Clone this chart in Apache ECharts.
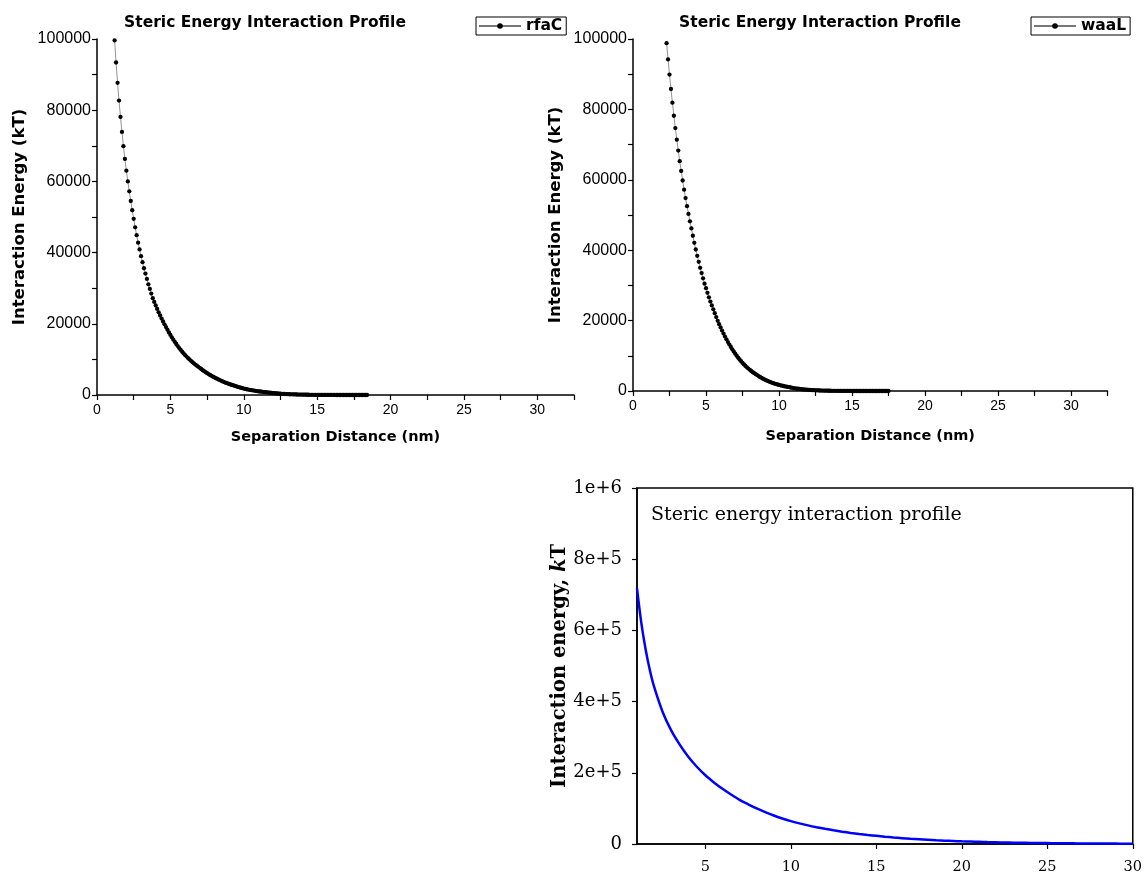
<!DOCTYPE html>
<html><head><meta charset="utf-8">
<script src="https://cdn.jsdelivr.net/npm/echarts@6/dist/echarts.min.js"></script>
<style>html,body{margin:0;padding:0;background:#fff}#c{width:1145px;height:877px}</style>
</head><body><div id="c"></div>
<script>
// ---- data ----
const chartTitle = 'Steric Energy Interaction Profile';
const xName = 'Separation Distance (nm)';
const yName = 'Interaction Energy (kT)';

// rfaC: sampled every 0.1 nm from 1.2 nm to 18.4 nm
const rfaCStart = 1.2, rfaCStep = 0.1;
const rfaC = [
 99600,93400,87700,82700,78100,73900,69900,66300,63000,60000,
 57200,54500,51900,49500,47100,44900,42800,40900,39000,37300,
 35600,34100,32600,31100,29800,28500,27200,26150,25140,24170,
 23230,22330,21470,20640,19840,19070,18330,17590,16880,16200,
 15550,14920,14320,13740,13190,12660,12150,11660,11220,10790,
 10380,9990,9610,9250,8900,8560,8240,7920,7620,7300,
 6980,6690,6400,6130,5870,5620,5380,5150,4930,4720,
 4520,4310,4110,3920,3740,3570,3400,3250,3100,2950,
 2820,2690,2540,2400,2270,2150,2030,1920,1810,1710,
 1620,1530,1450,1370,1300,1230,1160,1100,1040,980,
 930,880,830,790,740,680,630,580,530,490,
 450,420,380,350,330,300,276,254,233,214,
 197,181,166,152,139,127,116,106,97,88,
 80,73,66,60,54,49,44,40,36,32,
 29,26,23,20,18,16,14,12,11,9.5,
 8.2,7,6,5.1,4.3,3.6,3,2.5,2,1.6,
 1.3,1,0.8,0.6,0.45,0.33,0.23,0.15,0.09,0.05,
 0.02,0.01,0
];

// waaL: sampled every 0.1 nm from 2.3 nm to 17.5 nm
const waaLStart = 2.3, waaLStep = 0.1;
const waaL = [
 98800,94200,89900,85800,81900,78200,74700,71400,68300,65300,
 62500,59800,57200,54800,52500,50300,48200,46200,44100,42100,
 40200,38400,36700,35000,33500,32000,30500,29200,27900,26600,
 25400,24300,23200,22100,21000,19950,18980,18050,17160,16320,
 15470,14670,13900,13180,12500,11850,11200,10590,10020,9470,
 8950,8460,7990,7550,7130,6730,6360,6010,5680,5360,
 5070,4790,4520,4240,3980,3730,3500,3280,3080,2890,
 2710,2540,2380,2230,2090,1960,1840,1720,1610,1510,
 1420,1330,1240,1170,1090,1000,910,830,760,700,
 640,580,530,490,440,400,370,335,303,274,
 247,223,201,181,163,146,131,117,105,94,
 84,75,66,59,52,46,41,36,31,27,
 24,21,18,15.5,13.3,11.4,9.7,8.2,6.9,5.8,
 4.8,4,3.3,2.7,2.2,1.7,1.4,1.1,0.85,0.65,
 0.5,0.37,0.27,0.19,0.13,0.09,0.06,0.04,0.02,0.01,
 0.005,0.002,0
];

// bottom panel
const profileTitle = 'Steric energy interaction profile';
const profileX = [1,1.25,1.5,1.75,2,2.5,3,3.5,4,4.5,5,5.5,6,6.5,7,7.5,8,8.5,9,9.5,10,
 10.5,11,11.5,12,12.5,13,13.5,14,14.5,15,15.5,16,16.5,17,17.5,18,18.5,19,19.5,20,
 20.5,21,21.5,22,22.5,23,23.5,24,24.5,25,25.5,26,26.5,27,27.5,28,28.5,29,29.5,30];
const profileY = [718000,622000,548000,489000,442000,371000,319000,279000,245000,217000,193000,
 173000,155000,139000,124000,111500,99900,89500,80100,71800,64300,
 58000,52300,47200,42600,38400,34600,31200,28200,25400,22900,
 20500,18300,16400,14600,13100,11700,10400,9320,8340,7450,
 6680,5980,5360,4800,4300,3850,3450,3090,2770,2480,
 2240,2020,1830,1650,1490,1350,1220,1100,990,900];
const profileXTicks = [5,10,15,20,25,30];
const profileYTickText = {0:'0',200000:'2e+5',400000:'4e+5',600000:'6e+5',800000:'8e+5',1000000:'1e+6'};

// ---- build ----
function pairs(start, step, ys){ return ys.map((y,i)=>[+(start+i*step).toFixed(2), y]); }
const SANS = 'Liberation Sans', BOLDSANS = 'DejaVu Sans', SERIF = 'DejaVu Serif';

function topX(grid){
  return {gridIndex:grid,type:'value',min:0,max:32.5,interval:2.5,name:xName,nameLocation:'middle',
    nameGap: grid===0?35:38,
    nameTextStyle:{fontFamily:BOLDSANS,fontWeight:'bold',fontSize:14.5,color:'#000'},
    axisLine:{onZero:false,lineStyle:{color:'#000',width:1.5}},
    axisTick:{length:5,lineStyle:{color:'#000',width:1.2}},
    axisLabel:{fontFamily:SANS,fontSize:14,color:'#000',margin:8,
      formatter:v=> (Math.abs(v%5)<1e-9 ? String(v) : '')},
    splitLine:{show:false}};
}
function topY(grid){
  return {gridIndex:grid,type:'value',min:0,max:100000,interval:10000,name:yName,nameLocation:'middle',
    nameGap:69,
    nameTextStyle:{fontFamily:BOLDSANS,fontWeight:'bold',fontSize:16.5,color:'#000'},
    axisLine:{show:true,lineStyle:{color:'#000',width:1.5}},
    axisTick:{length:5,lineStyle:{color:'#000',width:1.2}},
    axisLabel:{fontFamily:SANS,fontSize:16,color:'#000',margin:6,
      formatter:v=> (v%20000===0 ? String(v) : '')},
    splitLine:{show:false}};
}
function topSeries(name, grid, data){
  return {name, type:'line', xAxisIndex:grid, yAxisIndex:grid, data,
    symbol:'circle', symbolSize:4.3, showSymbol:true,
    itemStyle:{color:'#000'}, lineStyle:{color:'#777',width:0.8}, animation:false};
}
function legendBox(name, left){
  return {data:[name], left, top:17, orient:'horizontal', borderColor:'#000', borderWidth:1,
      padding:[1,4,1,2], itemWidth:42, itemHeight:7, itemGap:4,
      textStyle:{fontFamily:BOLDSANS,fontWeight:'bold',fontSize:15.5,color:'#000'}};
}

const option = {
  animation:false,
  backgroundColor:'#fff',
  grid:[
    {left:97, top:39, width:477, height:356},
    {left:633, top:39, width:474.5, height:352},
    {left:637, top:488, width:497, height:356, show:true, borderColor:'#000', borderWidth:1.5}
  ],
  legend:[ legendBox('rfaC', 476), legendBox('waaL', 1031) ],
  xAxis:[ topX(0), topX(1),
    {gridIndex:2,type:'value',min:1,max:30,
      axisLine:{onZero:false,lineStyle:{color:'#000',width:1.5}},
      axisTick:{customValues:profileXTicks,length:5,lineStyle:{color:'#000',width:1.2}},
      axisLabel:{customValues:profileXTicks,fontFamily:SERIF,fontSize:14.5,color:'#000',margin:16},
      splitLine:{show:false}}
  ],
  yAxis:[ topY(0), topY(1),
    {gridIndex:2,type:'value',min:0,max:1000000,interval:200000,
      name:'{a|Interaction energy, }{b|k}{a|T}', nameLocation:'middle', nameGap:63,
      nameTextStyle:{rich:{
        a:{fontFamily:SERIF,fontWeight:'bold',fontSize:19.5,color:'#000'},
        b:{fontFamily:SERIF,fontWeight:'bold',fontStyle:'italic',fontSize:19.5,color:'#000'}}},
      axisLine:{show:true,lineStyle:{color:'#000',width:1.5}},
      axisTick:{length:5,lineStyle:{color:'#000',width:1.2}},
      axisLabel:{fontFamily:SERIF,fontSize:18,color:'#000',margin:15,
        formatter:v=> profileYTickText[v] !== undefined ? profileYTickText[v] : ''},
      splitLine:{show:false}}
  ],
  graphic:[
    {type:'text', x:265, y:23, style:{text:chartTitle, align:'center', verticalAlign:'middle',
      font:'bold 15.5px "DejaVu Sans"', fill:'#000'}},
    {type:'text', x:820, y:23, style:{text:chartTitle, align:'center', verticalAlign:'middle',
      font:'bold 15.5px "DejaVu Sans"', fill:'#000'}},
    {type:'text', x:651, y:515, style:{text:profileTitle, align:'left', verticalAlign:'middle',
      font:'19px "DejaVu Serif"', fill:'#000'}}
  ],
  series:[
    topSeries('rfaC', 0, pairs(rfaCStart, rfaCStep, rfaC)),
    topSeries('waaL', 1, pairs(waaLStart, waaLStep, waaL)),
    {name:'profile', type:'line', xAxisIndex:2, yAxisIndex:2,
      data: profileX.map((x,i)=>[x, profileY[i]]),
      showSymbol:false, smooth:0.3, lineStyle:{color:'#0000ff', width:2.5}, itemStyle:{color:'#0000ff'}}
  ]
};
const chart = echarts.init(document.getElementById('c'), null, {renderer:'canvas'});
chart.setOption(option);
</script>
</body></html>
